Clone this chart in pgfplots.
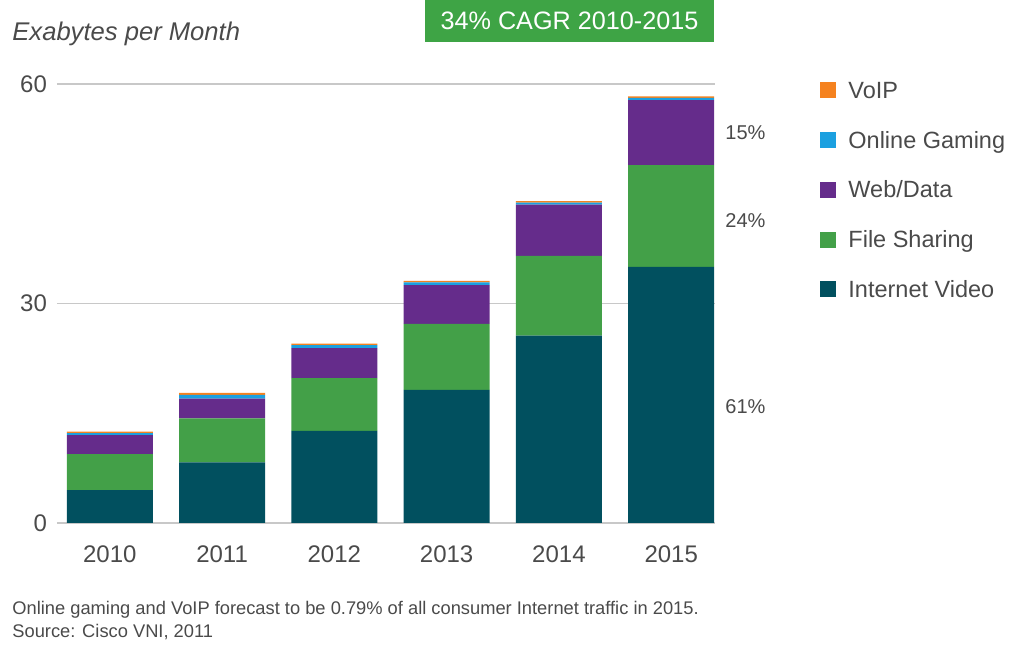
\documentclass[border=0pt]{standalone}
\usepackage{pgfplots}
\pgfplotsset{compat=1.18}
\usepackage{fontspec}
\setmainfont{Liberation Sans}
\definecolor{video}{HTML}{01505F}
\definecolor{fileshare}{HTML}{43A048}
\definecolor{webdata}{HTML}{652C8B}
\definecolor{gaming}{HTML}{1BA0E0}
\definecolor{voip}{HTML}{F5821F}
\definecolor{cagr}{HTML}{3EA445}
\definecolor{txt}{HTML}{4A4A4A}
\definecolor{gridc}{HTML}{C8C8C8}
\begin{document}
\begin{tikzpicture}
\useasboundingbox (0pt,0pt) rectangle (504.5pt,324pt);
\fill[cagr] (212.5pt,303pt) rectangle (357pt,324pt);
\node[text=white, font=\fontsize{12.6}{14}\selectfont] at (284.75pt,313.5pt) {34\% CAGR 2010-2015};
\node[anchor=west, inner sep=0pt, font=\itshape\fontsize{12.8}{14}\selectfont, text=txt] at (6pt,307pt) {Exabytes per Month};
\begin{axis}[
  at={(28.5pt,62.5pt)}, anchor=south west,
  scale only axis, width=329pt, height=219.5pt,
  xmin=-0.47, xmax=5.39, ymin=0, ymax=60,
  ytick={0,30,60},
  xtick=data, xticklabels={2010,2011,2012,2013,2014,2015},
  ybar stacked, bar width=43pt,
  axis line style={draw=none},
  major tick length=0pt,
  ymajorgrids, grid style={gridc, line width=0.8pt},
  /pgf/number format/assume math mode=true,
  ticklabel style={font=\fontsize{12}{14}\selectfont, text=txt},
  yticklabel style={xshift=-1.5pt},
  xticklabel style={yshift=-8pt},
  clip=false,
  reverse legend,
  legend cell align=left,
  legend image code/.code={\fill[#1] (0pt,-3pt) rectangle (8pt,5pt);},
  legend style={at={(1.1505,1.018)}, anchor=north west, draw=none, fill=none,
    font=\fontsize{11.75}{13}\selectfont, text=txt,
    nodes={inner sep=0pt, text height=9pt, text depth=3pt},
    row sep=12.85pt,
    /tikz/every odd column/.append style={column sep=6pt}},
]
\addplot[fill=video, draw=none] coordinates {(0,4.5) (1,8.3) (2,12.6) (3,18.2) (4,25.6) (5,35.0)};
\addplot[fill=fileshare, draw=none] coordinates {(0,4.9) (1,6.0) (2,7.2) (3,9.0) (4,10.9) (5,13.9)};
\addplot[fill=webdata, draw=none] coordinates {(0,2.6) (1,2.7) (2,4.1) (3,5.3) (4,7.0) (5,8.9)};
\addplot[fill=gaming, draw=none] coordinates {(0,0.3) (1,0.5) (2,0.4) (3,0.4) (4,0.3) (5,0.3)};
\addplot[fill=voip, draw=none] coordinates {(0,0.2) (1,0.3) (2,0.2) (3,0.2) (4,0.2) (5,0.2)};
\legend{Internet Video, File Sharing, Web/Data, Online Gaming, VoIP}
\node[anchor=west, inner sep=0pt, xshift=5pt, font=\fontsize{10}{12}\selectfont, text=txt] at (axis cs:5.39,53.4) {15\%};
\node[anchor=west, inner sep=0pt, xshift=5pt, font=\fontsize{10}{12}\selectfont, text=txt] at (axis cs:5.39,41.4) {24\%};
\node[anchor=west, inner sep=0pt, xshift=5pt, font=\fontsize{10}{12}\selectfont, text=txt] at (axis cs:5.39,15.9) {61\%};
\end{axis}
\node[anchor=west, inner sep=0pt, font=\fontsize{9.15}{11}\selectfont, text=txt] at (6pt,19pt) {Online gaming and VoIP forecast to be 0.79\% of all consumer Internet traffic in 2015.};
\node[anchor=west, inner sep=0pt, font=\fontsize{9.15}{11}\selectfont, text=txt] at (6pt,8pt) {Source: Cisco VNI, 2011};
\end{tikzpicture}
\end{document}
